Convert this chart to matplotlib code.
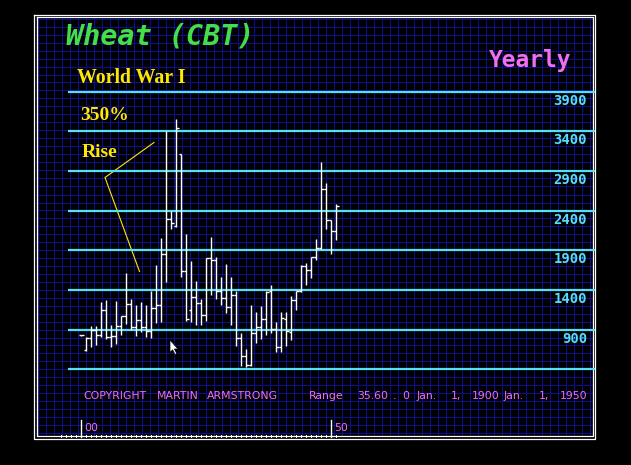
import matplotlib
matplotlib.use('Agg')
import matplotlib.pyplot as plt
from matplotlib.transforms import blended_transform_factory
from matplotlib.patches import Polygon

# yearly wheat bars 1900 - 1951 (price scale as printed on the chart)
years = list(range(1900, 1952))
opens = [828, 640, 789, 896, 828, 1147, 802, 815, 943, 1066,
         1228, 930, 1019, 933, 879, 1172, 1205, 1853, 2300, 2204,
         3107, 1636, 1151, 1310, 1234, 1088, 1799, 1778, 1387, 1303,
         1190, 1337, 799, 572, 455, 854, 938, 1034, 1383, 913,
         682, 1039, 871, 1278, 1391, 1706, 1656, 1816, 1933, 2672,
         2286, 2139]
highs = [835, 802, 947, 947, 1249, 1279, 955, 1266, 1066, 1619,
         1287, 1211, 1250, 1214, 1389, 1715, 2054, 3400, 2396, 3554,
         3107, 2104, 1765, 1514, 1285, 1803, 2063, 1811, 1559, 1723,
         1559, 1387, 854, 652, 1211, 1118, 1198, 1391, 1462, 997,
         1118, 1123, 1328, 1391, 1719, 1740, 1816, 2042, 3008, 2748,
         2286, 2483]
lows = [822, 628, 683, 700, 802, 777, 683, 713, 832, 968,
        896, 823, 865, 804, 791, 984, 992, 1506, 2171, 2196,
        1569, 1004, 992, 963, 963, 1004, 1337, 1286, 1211, 1106,
        959, 698, 446, 434, 446, 736, 782, 837, 854, 615,
        619, 690, 774, 1152, 1370, 1467, 1551, 1774, 1916, 2168,
        1853, 2034]
closes = [828, 789, 896, 828, 1147, 802, 815, 943, 1066, 1228,
          930, 1019, 933, 879, 1172, 1205, 1853, 2300, 2238, 3441,
          1636, 1034, 1310, 1234, 1088, 1799, 1778, 1387, 1303, 1190,
          1337, 799, 572, 455, 854, 936, 1034, 1374, 913, 685,
          1042, 880, 1275, 1391, 1706, 1656, 1816, 1933, 2672, 2286,
          2139, 2454]

price_levels = [400, 900, 1400, 1900, 2400, 2900, 3400, 3900]
price_labels = ['', '900', '1400', '1900', '2400', '2900', '3400', '3900']
year_ticks = [1900, 1950]
year_labels = ['00', '50']

# footer words and their left edge (pixels)
footer_words = ['COPYRIGHT', 'MARTIN', 'ARMSTRONG', 'Range', '35.60', '.', '0',
                'Jan.', '1,', '1900', 'Jan.', '1,', '1950']
footer_x = [83.7, 156.5, 206.8, 308.7, 356.8, 393, 402,
            416, 450.7, 471.5, 503.5, 539, 559.6]

GRID = '#0b0f8e'
CYAN = '#55dff2'
PINK = '#f06ef0'
YELLOW = '#ffe800'
GREEN = '#44dd4c'

fig = plt.figure(figsize=(6.31, 4.65), dpi=100, facecolor='black')

# background axes in pixel units: frame, grid, headings
bg = fig.add_axes([0, 0, 1, 1])
bg.set_xlim(0, 631)
bg.set_ylim(465, 0)
bg.set_facecolor('black')
bg.axis('off')

# grid, snapped to pixel centres
x = 37.5
while x < 592:
    bg.plot([x, x], [17, 436], color=GRID, lw=0.75, zorder=1)
    x += 8
for k in range(-8, 45):
    y = round(369.3 - 7.94 * k) - 0.5
    if 17 < y < 436:
        bg.plot([36, 592], [y, y], color=GRID, lw=0.75, zorder=1)

# double white frame
for (l, t, r, b) in [(33.5, 15.5, 594.5, 438.5), (36.5, 17.5, 592.5, 435.5)]:
    bg.plot([l, r, r, l, l], [t, t, b, b, t], color='white', lw=0.9, zorder=5)

bg.text(66, 36, 'Wheat (CBT)', color=GREEN, fontsize=20.5, family='DejaVu Sans Mono',
        fontweight='bold', style='italic', va='center', ha='left', zorder=6)
bg.text(571, 60, 'Yearly', color=PINK, fontsize=16.5, family='DejaVu Sans Mono',
        fontweight='bold', va='center', ha='right', zorder=6)

bg.text(77, 78, 'World War I', color=YELLOW, fontsize=14.3, family='Liberation Serif',
        fontweight='bold', va='center', ha='left', zorder=6)
bg.text(80, 115, '350%', color=YELLOW, fontsize=14, family='Liberation Serif',
        fontweight='bold', va='center', ha='left', zorder=6)
bg.text(82, 152, 'Rise', color=YELLOW, fontsize=14, family='Liberation Serif',
        fontweight='bold', va='center', ha='left', zorder=6)
bg.plot([154, 105, 139.5], [142.5, 177.5, 271.5], color=YELLOW, lw=0.8, zorder=6)

for word, wx in zip(footer_words, footer_x):
    bg.text(wx, 395.5, word, color=PINK, fontsize=7.8, va='center', ha='left', zorder=6)

# mouse pointer
bg.add_patch(Polygon([(170, 340), (170, 352.5), (172.6, 349.8), (175, 354.5),
                      (176.8, 353.6), (174.4, 349), (178, 349)],
                     closed=True, facecolor='white', edgecolor='black', lw=0.5, zorder=7))

# data axes laid over the same area
ax = fig.add_axes([0, 0, 1, 1])
ax.set_facecolor('none')
ax.axis('off')
px_per_year = 5.0
price_per_px = 12.6
ax.set_xlim(1900 - 81 / px_per_year, 1900 + (631 - 81) / px_per_year)
ax.set_ylim(400 - (465 - 369.3) * price_per_px, 400 + 369.3 * price_per_px)

ax.hlines(price_levels, 1900 + (68 - 81) / px_per_year, 1900 + (595 - 81) / px_per_year,
          color=CYAN, lw=1.6, zorder=3)
for p, lab in zip(price_levels, price_labels):
    ax.text(1900 + (587 - 81) / px_per_year, p - 25, lab, color=CYAN, fontsize=10,
            family='DejaVu Sans Mono', fontweight='bold', ha='right', va='top', zorder=6)

ax.vlines(years, lows, highs, color='white', lw=1.0, zorder=4)
ax.hlines(opens, [yr - 0.5 for yr in years], years, color='white', lw=1.0, zorder=4)
ax.hlines(closes, years, [yr + 0.5 for yr in years], color='white', lw=1.0, zorder=4)

# year axis along the bottom of the frame
trans = blended_transform_factory(ax.transData, bg.transData)
for yr, lab in zip(year_ticks, year_labels):
    ax.plot([yr, yr], [420, 437], color='white', lw=1.0, transform=trans, zorder=6)
    ax.text(yr + 0.6, 427.5, lab, color=PINK, fontsize=7.8, transform=trans,
            ha='left', va='center', zorder=6)
for yr in range(1896, 1952):
    ax.plot([yr, yr], [434.5, 436.5], color='white', lw=0.7, transform=trans, zorder=6)

fig.savefig('out.png', dpi=100, facecolor='black')
